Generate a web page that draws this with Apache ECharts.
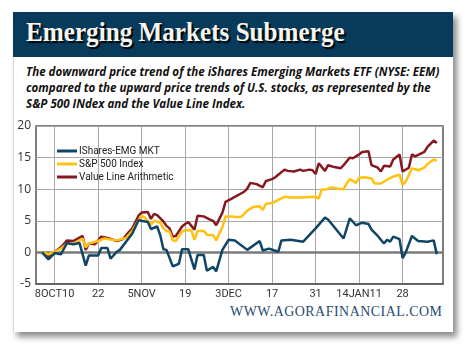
<!DOCTYPE html>
<html><head><meta charset="utf-8">
<script src="https://cdn.jsdelivr.net/npm/echarts@6/dist/echarts.min.js"></script>
<style>
html,body{margin:0;padding:0;background:#fff;width:470px;height:352px;overflow:hidden;}
#card{position:absolute;left:13px;top:12px;width:439px;height:320px;background:#fff;box-shadow:4px 5px 6px rgba(0,0,0,0.45);border-left:1px solid #d8d8d8;}
#header{position:absolute;left:13px;top:12px;width:440px;height:45px;background:#073a5b;}
.fit{position:absolute;white-space:nowrap;transform-origin:0 0;}
#title{left:26px;top:16px;font-family:'Liberation Serif','DejaVu Serif',serif;font-weight:bold;font-size:28px;line-height:32px;color:#f7f5ee;text-shadow:2px 2px 1px #000;}
.sub{left:26px;font-family:'Open Sans','Noto Sans',sans-serif;font-weight:bold;font-style:italic;font-size:12px;line-height:16px;color:#111;}
#footer{left:230px;top:303px;font-family:'Liberation Serif','DejaVu Serif',serif;font-size:14px;line-height:18px;color:#1f4c70;letter-spacing:0.5px;}
#chart{position:absolute;left:0;top:0;width:470px;height:352px;}
</style></head>
<body>
<div id="card"></div>
<div id="header"></div>
<div id="title" class="fit" data-w="319">Emerging Markets Submerge</div>
<div id="s1" class="fit sub" style="top:64px" data-w="413">The downward price trend of the iShares Emerging Markets ETF (NYSE: EEM)</div>
<div id="s2" class="fit sub" style="top:80px">compared to the upward price trends of U.S. stocks, as represented by the</div>
<div id="s3" class="fit sub" style="top:96px">S&amp;P 500 INdex and the Value Line Index.</div>
<div id="footer" class="fit" data-w="212">WWW.AGORAFINANCIAL.COM</div>
<div id="chart"></div>
<script>
// ---- data (MM-DD; Oct-Dec = 2010, Jan-Feb = 2011) ----
const seriesNames = ['IShares-EMG MKT', 'S&P 500 Index', 'Value Line Arithmetic'];
const tickDates  = ['10-08','10-22','11-05','11-19','12-03','12-17','12-31','01-14','01-28'];
const tickLabels = ['8OCT10','22','5NOV','19','3DEC','17','31','14JAN11','28'];
const yTicks = [-5, 0, 5, 10, 15, 20];

const eemDates = ['10-04','10-06','10-08','10-10','10-12','10-14','10-16','10-18','10-19','10-22','10-23','10-25','10-26','10-28','10-29','11-02','11-04','11-07','11-08','11-10','11-11','11-12','11-13','11-15','11-17','11-18','11-20','11-22','11-23','11-25','11-26','11-28','11-29','12-01','12-03','12-05','12-09','12-13','12-14','12-16','12-19','12-20','12-23','12-27','12-31','01-03','01-04','01-09','01-11','01-13','01-15','01-17','01-18','01-20','01-22','01-23','01-24','01-25','01-27','01-28','01-29','01-31','02-02','02-05','02-07','02-08'];
const eemValues = [0.0,-1.1,-0.1,-0.3,1.5,1.3,1.5,-2.1,-0.5,-0.5,0.7,0.7,-1.0,0.1,0.4,3.0,5.1,4.8,3.7,4.1,2.7,0.5,0.4,-2.2,-1.8,0.5,0.5,-2.7,-0.4,-0.4,-2.9,-2.3,-3.0,0.4,2.0,1.9,0.4,1.8,0.3,0.6,0.1,1.9,2.0,1.7,3.8,5.5,5.2,2.2,5.4,4.3,4.7,4.5,3.6,2.6,1.4,2.0,1.7,2.5,2.1,-0.9,0.0,2.6,1.8,1.7,1.9,-0.3];

const spDates = ['10-04','10-06','10-08','10-10','10-12','10-14','10-17','10-18','10-19','10-22','10-24','10-28','10-31','11-02','11-04','11-05','11-06','11-08','11-09','11-11','11-12','11-13','11-14','11-15','11-16','11-18','11-19','11-21','11-22','11-23','11-25','11-26','11-28','11-29','12-01','12-02','12-04','12-05','12-07','12-09','12-11','12-13','12-14','12-15','12-17','12-19','12-21','12-23','12-26','12-31','01-01','01-02','01-03','01-05','01-07','01-09','01-10','01-11','01-13','01-14','01-16','01-18','01-19','01-21','01-23','01-25','01-27','01-28','01-29','01-31','02-02','02-04','02-05','02-07','02-08'];
const spValues = [0.0,-0.3,0.1,0.6,1.4,1.3,2.2,0.8,1.4,1.8,2.2,1.9,2.3,3.4,5.1,5.8,5.5,4.4,5.0,4.7,3.8,3.4,3.3,1.9,1.8,3.3,3.5,3.5,2.0,3.4,3.4,2.8,2.7,1.9,4.0,5.7,5.7,5.6,5.6,6.6,7.2,7.3,6.7,7.7,7.8,8.3,8.8,8.7,8.7,8.8,8.5,10.0,9.9,10.3,10.1,10.0,10.9,11.6,11.0,11.8,11.9,11.7,10.9,10.9,11.5,12.0,12.3,10.7,11.2,13.3,13.0,13.4,14.0,14.7,14.5];

const vlDates = ['10-04','10-06','10-08','10-10','10-12','10-14','10-17','10-18','10-19','10-21','10-23','10-25','10-28','10-30','11-01','11-02','11-04','11-05','11-07','11-08','11-09','11-10','11-12','11-13','11-14','11-15','11-16','11-18','11-19','11-20','11-22','11-23','11-25','11-27','11-28','11-29','12-01','12-02','12-04','12-05','12-08','12-09','12-10','12-12','12-14','12-15','12-17','12-18','12-21','12-22','12-24','12-26','12-27','12-29','12-30','12-31','01-01','01-03','01-04','01-06','01-08','01-09','01-11','01-12','01-14','01-15','01-17','01-18','01-20','01-21','01-22','01-24','01-25','01-27','01-28','01-30','01-31','02-01','02-04','02-05','02-07','02-08'];
const vlValues = [0.0,-0.7,0.1,0.8,1.9,1.8,2.6,0.4,1.4,1.3,2.5,2.3,1.8,2.1,3.3,3.8,5.8,6.3,6.4,5.3,6.1,5.9,4.9,4.2,3.8,2.5,2.6,4.1,4.5,4.8,3.6,5.8,5.7,5.2,5.0,4.3,6.3,8.0,8.5,8.8,9.6,10.1,11.0,10.8,10.3,11.3,11.6,11.9,13.1,12.9,12.8,13.1,12.9,13.1,13.0,12.4,14.1,12.9,13.8,13.5,13.3,13.8,15.0,14.9,15.5,15.9,16.0,13.8,13.4,12.8,13.7,13.6,14.7,15.5,12.8,13.4,15.5,15.2,15.9,16.7,17.7,17.3];

// ---- calendar-day categories ----
function buildDays(){
  const out=[]; const d=new Date(Date.UTC(2010,9,2)); const end=Date.UTC(2011,1,10);
  while(d.getTime()<=end){ out.push(String(d.getUTCMonth()+1).padStart(2,'0')+'-'+String(d.getUTCDate()).padStart(2,'0')); d.setUTCDate(d.getUTCDate()+1); }
  return out;
}
const days = buildDays();
const pairs = (ds, vs) => ds.map((d,i)=>[d, vs[i]]);
const isTick = (i, v) => tickDates.indexOf(v) >= 0 || tickDates.indexOf(days[i]) >= 0;

// ---- fit header texts ----
document.querySelectorAll('.fit[data-w]').forEach(el=>{
  const s = +el.dataset.w / el.scrollWidth; el.style.transform='scaleX('+s+')';
  if(el.id==='s1'){ ['s2','s3'].forEach(id=>document.getElementById(id).style.transform='scaleX('+s+')'); }
});

const chart = echarts.init(document.getElementById('chart'), null, {renderer:'canvas'});
const narrow = "'Liberation Sans Narrow','Roboto','Noto Sans',sans-serif";
chart.setOption({
  animation:false,
  grid:{left:36, top:126, width:407, height:158, show:true, borderColor:'#555', borderWidth:1.5, backgroundColor:'transparent', containLabel:false},
  legend:{
    orient:'vertical', left:52, top:140, itemWidth:20, itemHeight:3, itemGap:1, icon:'rect',
    data:seriesNames,
    textStyle:{fontFamily:narrow, fontSize:10, color:'#222', lineHeight:12, padding:[0,0,0,-3]}
  },
  xAxis:{
    type:'category', data:days, boundaryGap:false,
    axisLine:{onZero:false, lineStyle:{color:'#555', width:1.5}},
    axisTick:{show:false},
    axisLabel:{interval:isTick, formatter:v=>tickLabels[tickDates.indexOf(v)], color:'#333', fontFamily:narrow, fontSize:11, margin:5},
    splitLine:{show:true, interval:isTick, lineStyle:{color:'#a8a8a8', width:1}}
  },
  yAxis:{
    type:'value', min:yTicks[0], max:yTicks[yTicks.length-1], interval:5,
    axisLine:{show:false}, axisTick:{show:false},
    axisLabel:{color:'#333', fontFamily:"'Open Sans','Noto Sans',sans-serif", fontSize:12, margin:5},
    splitLine:{lineStyle:{color:'#a8a8a8', width:1}}
  },
  series:[
    {name:seriesNames[0], type:'line', data:pairs(eemDates,eemValues), showSymbol:false, z:5,
     lineStyle:{color:'#0f4565', width:2.5}, itemStyle:{color:'#0f4565'},
     markLine:{silent:true, symbol:'none', label:{show:false}, lineStyle:{color:'#7a7a7a', width:2.5, type:'solid'}, data:[{yAxis:0}], z:1}},
    {name:seriesNames[1], type:'line', data:pairs(spDates,spValues), showSymbol:false, z:4,
     lineStyle:{color:'#ffc20f', width:2.5}, itemStyle:{color:'#ffc20f'}},
    {name:seriesNames[2], type:'line', data:pairs(vlDates,vlValues), showSymbol:false, z:3,
     lineStyle:{color:'#861820', width:2.5}, itemStyle:{color:'#861820'}}
  ]
});
</script>
</body></html>
